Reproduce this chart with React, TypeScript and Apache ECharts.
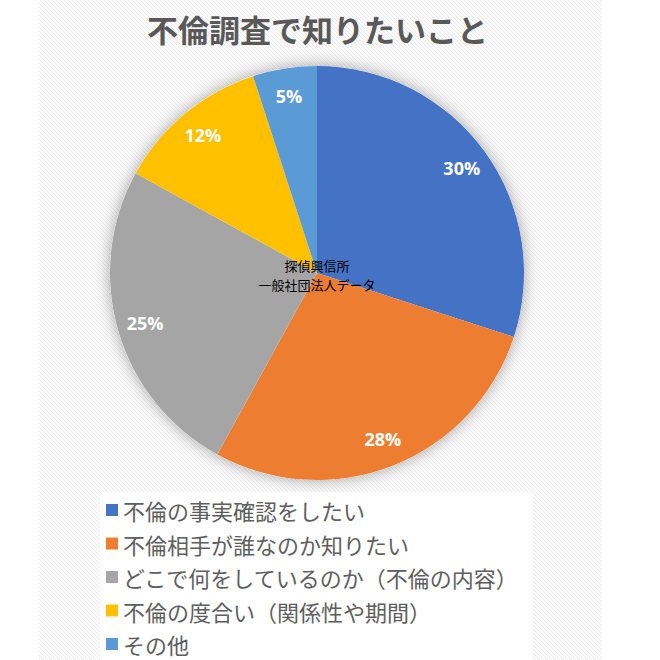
import React, { useEffect, useRef } from "react";
import * as echarts from "echarts";

const titleText = "不倫調査で知りたいこと";
const categories = [
  "不倫の事実確認をしたい",
  "不倫相手が誰なのか知りたい",
  "どこで何をしているのか（不倫の内容）",
  "不倫の度合い（関係性や期間）",
  "その他",
];
const values = [30, 28, 25, 12, 5];
const centerLines = ["探偵興信所", "一般社団法人データ"];

const colors = ["#4472C4", "#ED7D31", "#A5A5A5", "#FFC000", "#5B9BD5"];
const FONT = "'Noto Sans CJK JP', 'Noto Sans', sans-serif";

function makeStripes(): HTMLCanvasElement {
  const c = document.createElement("canvas");
  c.width = 4;
  c.height = 4;
  const ctx = c.getContext("2d")!;
  ctx.fillStyle = "#fbfbfb";
  ctx.fillRect(0, 0, 4, 4);
  ctx.fillStyle = "#ebebeb";
  for (let i = 0; i < 4; i++) {
    ctx.fillRect(i, i, 1, 1);
  }
  return c;
}

export default function App() {
  const ref = useRef<HTMLDivElement>(null);
  useEffect(() => {
    document.body.style.margin = "0";
    const chart = echarts.init(ref.current!, undefined, { renderer: "svg" });
    const data = categories.map((name, i) => ({ name, value: values[i] }));
    const center = [317, 273];
    const R = 207;
    chart.setOption({
      animation: false,
      backgroundColor: "#ffffff",
      color: colors,
      title: {
        text: titleText,
        left: 142,
        top: 8,
        textStyle: {
          fontSize: 31,
          fontWeight: "bold",
          color: "#595959",
          fontFamily: FONT,
        },
      },
      legend: {
        orient: "vertical",
        left: 106,
        top: 499,
        height: 220,
        padding: 0,
        itemWidth: 12,
        itemHeight: 12,
        itemGap: 11.5,
        icon: "rect",
        data: categories,
        selectedMode: false,
        textStyle: {
          fontSize: 22,
          color: "#5e5e5e",
          fontFamily: FONT,
        },
      },
      graphic: [
        {
          type: "rect",
          z: -10,
          shape: { x: 39, y: 0, width: 563, height: 660 },
          style: { fill: { image: makeStripes(), repeat: "repeat" } as any },
          silent: true,
        },
        {
          type: "rect",
          z: -9,
          shape: { x: 100, y: 492, width: 433, height: 168 },
          style: { fill: "#ffffff" },
          silent: true,
        },
        {
          type: "text",
          z: 100,
          x: center[0],
          y: 265,
          silent: true,
          style: {
            text: centerLines[0],
            align: "center",
            verticalAlign: "middle",
            fontSize: 13,
            fill: "#000000",
            fontFamily: FONT,
          },
        },
        {
          type: "text",
          z: 100,
          x: center[0],
          y: 284,
          silent: true,
          style: {
            text: centerLines[1],
            align: "center",
            verticalAlign: "middle",
            fontSize: 13,
            fill: "#000000",
            fontFamily: FONT,
          },
        },
      ],
      series: [
        {
          type: "pie",
          silent: true,
          center,
          radius: [0, R],
          z: 1,
          data: [{ name: "shadow", value: 1 }],
          label: { show: false },
          labelLine: { show: false },
          itemStyle: {
            color: "#ffffff",
            shadowBlur: 16,
            shadowColor: "rgba(0,0,0,0.35)",
          },
          legendHoverLink: false,
        },
        {
          type: "pie",
          center,
          radius: [0, R],
          startAngle: 90,
          clockwise: true,
          data,
          label: { show: false },
          labelLine: { show: false },
          itemStyle: { borderWidth: 0 },
        },
        {
          type: "pie",
          silent: true,
          center,
          radius: [R * 0.7, R],
          startAngle: 90,
          clockwise: true,
          data,
          itemStyle: { color: "transparent" },
          label: {
            show: true,
            position: "inside",
            formatter: "{c}%",
            color: "#ffffff",
            fontSize: 18,
            fontWeight: "bold",
            fontFamily: "'Open Sans', 'Noto Sans', sans-serif",
          },
          labelLine: { show: false },
        },
      ],
    });
    return () => chart.dispose();
  }, []);
  return <div ref={ref} style={{ width: 660, height: 660 }} />;
}
